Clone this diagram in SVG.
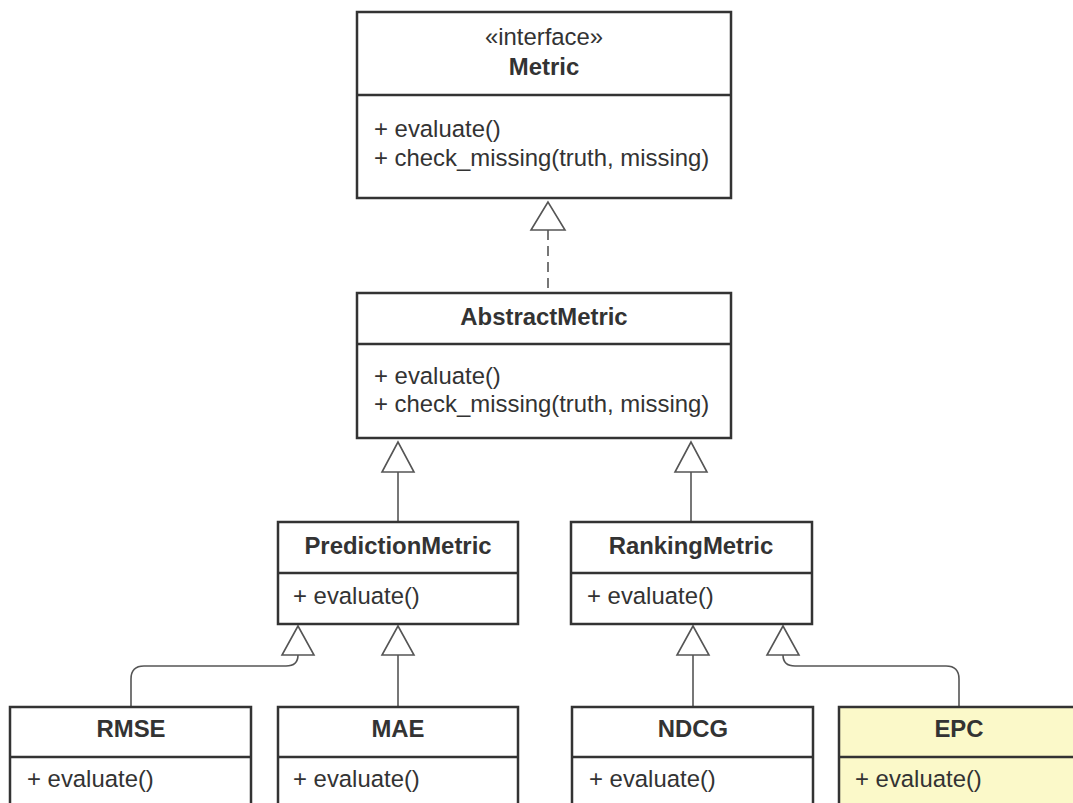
<svg xmlns="http://www.w3.org/2000/svg" width="1073" height="803" viewBox="0 0 1073 803">
<style>
.box{fill:#ffffff;stroke:#333333;stroke-width:2.5}
.epc{fill:#fbf9c9;stroke:#333333;stroke-width:2.5}
.div{stroke:#333333;stroke-width:2.5}
.t{font-family:"Liberation Sans",Arial,sans-serif;font-size:23.9px;fill:#333333}
.b{font-weight:bold;text-anchor:middle}
.c{text-anchor:middle}
.ln{fill:none;stroke:#555555;stroke-width:1.6}
.tri{fill:#ffffff;stroke:#555555;stroke-width:1.6}
</style>
<rect width="1073" height="803" fill="#ffffff"/>
<g id="connectors">
<path class="ln" d="M548 230 V293" stroke-dasharray="10,6"/>
<polygon class="tri" points="548,202 531,230 565,230"/>
<path class="ln" d="M398 472 V522"/>
<polygon class="tri" points="398,442 382,472 414,472"/>
<path class="ln" d="M691 472 V522"/>
<polygon class="tri" points="691,442 675,472 707,472"/>
<path class="ln" d="M131 707 V679 Q131 666 144 666 H286 Q298 666 298 655"/>
<polygon class="tri" points="298,626 282,655 314,655"/>
<path class="ln" d="M398 655 V707"/>
<polygon class="tri" points="398,626 382,655 414,655"/>
<path class="ln" d="M693 655 V707"/>
<polygon class="tri" points="693,626 677,655 709,655"/>
<path class="ln" d="M959 707 V679 Q959 666 946 666 H795 Q783 666 783 655"/>
<polygon class="tri" points="783,626 767,655 799,655"/>
</g>
<g id="Metric">
<rect class="box" x="357" y="12" width="374" height="186"/>
<line class="div" x1="357" y1="95" x2="731" y2="95"/>
<text class="t c" x="544" y="45">«interface»</text>
<text class="t b" x="544" y="75">Metric</text>
<text class="t" x="374" y="137">+ evaluate()</text>
<text class="t" x="374" y="166">+ check_missing(truth, missing)</text>
</g>
<g id="AbstractMetric">
<rect class="box" x="357" y="293" width="374" height="145"/>
<line class="div" x1="357" y1="344" x2="731" y2="344"/>
<text class="t b" x="544" y="325">AbstractMetric</text>
<text class="t" x="374" y="384">+ evaluate()</text>
<text class="t" x="374" y="412">+ check_missing(truth, missing)</text>
</g>
<g id="PredictionMetric">
<rect class="box" x="278" y="522" width="240" height="102"/>
<line class="div" x1="278" y1="573" x2="518" y2="573"/>
<text class="t b" x="398" y="554">PredictionMetric</text>
<text class="t" x="293" y="604">+ evaluate()</text>
</g>
<g id="RankingMetric">
<rect class="box" x="571" y="522" width="241" height="102"/>
<line class="div" x1="571" y1="573" x2="812" y2="573"/>
<text class="t b" x="691" y="554">RankingMetric</text>
<text class="t" x="587" y="604">+ evaluate()</text>
</g>
<g id="RMSE">
<rect class="box" x="10" y="707" width="241" height="110"/>
<line class="div" x1="10" y1="757" x2="251" y2="757"/>
<text class="t b" x="131" y="737">RMSE</text>
<text class="t" x="27" y="787">+ evaluate()</text>
</g>
<g id="MAE">
<rect class="box" x="278" y="707" width="240" height="110"/>
<line class="div" x1="278" y1="757" x2="518" y2="757"/>
<text class="t b" x="398" y="737">MAE</text>
<text class="t" x="293" y="787">+ evaluate()</text>
</g>
<g id="NDCG">
<rect class="box" x="572" y="707" width="241" height="110"/>
<line class="div" x1="572" y1="757" x2="813" y2="757"/>
<text class="t b" x="693" y="737">NDCG</text>
<text class="t" x="589" y="787">+ evaluate()</text>
</g>
<g id="EPC">
<rect class="epc" x="839" y="707" width="250" height="110"/>
<line class="div" x1="839" y1="757" x2="1089" y2="757"/>
<text class="t b" x="959" y="737">EPC</text>
<text class="t" x="855" y="787">+ evaluate()</text>
</g>
</svg>
